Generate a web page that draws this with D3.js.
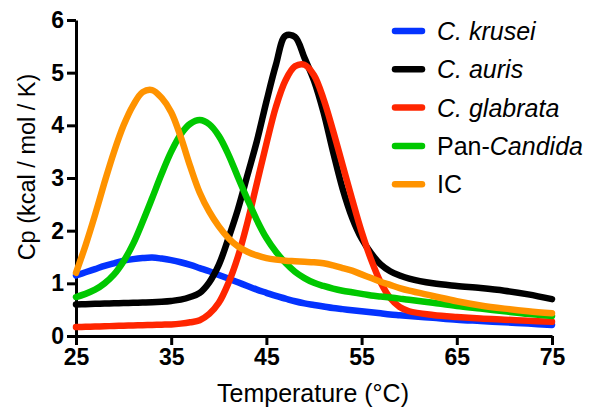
<!DOCTYPE html>
<html>
<head>
<meta charset="utf-8">
<script src="https://cdn.jsdelivr.net/npm/d3@7"></script>
<style>
    body { margin: 0; background: #fff; }
    svg { display: block; font-family: "Liberation Sans", Arial, sans-serif; }
</style>
</head>
<body>
<div id="chart"></div>
<script>
// temperature grid (°C), shared by every trace
const temps = [25, 26, 27, 28, 29, 30, 31, 32, 33, 34, 35, 36, 37, 38, 39, 40, 41, 42, 43, 44, 45, 46, 47, 48, 49, 50,
    51, 52, 53, 54, 55, 56, 57, 58, 59, 60, 62.5, 65, 67.5, 70, 72.5, 75]

const kruseiCp = [1.15, 1.21, 1.27, 1.33, 1.38, 1.43, 1.46, 1.48, 1.49, 1.47, 1.44, 1.40, 1.35, 1.29, 1.23, 1.16, 1.09, 1.02, 0.95, 0.88, 0.82, 0.76, 0.71, 0.66, 0.62, 0.59,
    0.56, 0.53, 0.51, 0.49, 0.47, 0.45, 0.43, 0.41, 0.395, 0.38, 0.345, 0.31, 0.285, 0.26, 0.235, 0.21]
const aurisCp = [0.60, 0.605, 0.61, 0.615, 0.62, 0.625, 0.63, 0.635, 0.64, 0.65, 0.665, 0.69, 0.74, 0.82, 1.02, 1.35, 1.85, 2.40, 3.05, 3.70, 4.45, 5.15, 5.70, 5.68, 5.28, 4.85,
    4.25, 3.50, 2.80, 2.25, 1.85, 1.57, 1.36, 1.23, 1.15, 1.09, 1.00, 0.95, 0.91, 0.86, 0.79, 0.70]
const glabrataCp = [0.17, 0.175, 0.18, 0.185, 0.19, 0.195, 0.20, 0.205, 0.21, 0.215, 0.22, 0.235, 0.26, 0.30, 0.42, 0.63, 1.00, 1.50, 2.15, 2.90, 3.65, 4.35, 4.85, 5.12, 5.15, 4.95,
    4.50, 3.90, 3.25, 2.60, 1.98, 1.45, 1.02, 0.72, 0.55, 0.47, 0.40, 0.36, 0.33, 0.31, 0.29, 0.27]
const panCandidaCp = [0.74, 0.80, 0.88, 1.00, 1.17, 1.42, 1.75, 2.17, 2.62, 3.08, 3.50, 3.83, 4.03, 4.10, 4.02, 3.80, 3.45, 3.02, 2.60, 2.20, 1.86, 1.60, 1.39, 1.22, 1.10, 1.01,
    0.95, 0.90, 0.86, 0.83, 0.80, 0.77, 0.75, 0.73, 0.71, 0.69, 0.63, 0.57, 0.52, 0.47, 0.42, 0.38]
const icCp = [1.20, 1.72, 2.30, 2.92, 3.50, 4.00, 4.38, 4.63, 4.67, 4.52, 4.25, 3.78, 3.22, 2.72, 2.36, 2.08, 1.86, 1.70, 1.60, 1.53, 1.48, 1.45, 1.43, 1.42, 1.41, 1.40,
    1.38, 1.34, 1.29, 1.24, 1.17, 1.10, 1.03, 0.97, 0.91, 0.86, 0.76, 0.66, 0.58, 0.52, 0.47, 0.43]

const xTicks = [25, 35, 45, 55, 65, 75]
const yTicks = [0, 1, 2, 3, 4, 5, 6]

const series = [
    { name: ['C. krusei'], italic: [true], color: '#0433ff', values: kruseiCp },
    { name: ['C. auris'], italic: [true], color: '#000000', values: aurisCp },
    { name: ['C. glabrata'], italic: [true], color: '#ff2600', values: glabrataCp },
    { name: ['Pan-', 'Candida'], italic: [false, true], color: '#00c800', values: panCandidaCp },
    { name: ['IC'], italic: [false], color: '#ff9300', values: icCp }
]

const width = 590, height = 414

const svg = d3.select('#chart').append('svg')
    .attr('width', width)
    .attr('height', height)

const x = d3.scaleLinear().domain([25, 75]).range([76, 552])
const y = d3.scaleLinear().domain([0, 6]).range([336, 20])

// axes
const xAxis = svg.append('g')
    .attr('transform', `translate(0,${y(0)})`)
    .call(d3.axisBottom(x).tickValues(xTicks).tickSize(9).tickSizeOuter(0).tickPadding(4))
const yAxis = svg.append('g')
    .attr('transform', `translate(${x(25)},0)`)
    .call(d3.axisLeft(y).tickValues(yTicks).tickFormat(d3.format('d')).tickSize(9).tickSizeOuter(0).tickPadding(3))

for (let axis of [xAxis, yAxis]) {
    axis.select('.domain').attr('stroke', '#000').attr('stroke-width', 3)
    axis.selectAll('.tick line').attr('stroke', '#000').attr('stroke-width', 3)
    axis.selectAll('.tick text')
        .attr('fill', '#000')
        .style('font-size', '23px')
        .style('font-weight', 'bold')
        .style('font-family', '"Liberation Sans", Arial, sans-serif')
}

// axis titles
svg.append('text')
    .attr('x', 313)
    .attr('y', 402)
    .attr('text-anchor', 'middle')
    .style('font-size', '25px')
    .text('Temperature (°C)')

svg.append('text')
    .attr('transform', 'translate(35,167) rotate(-90)')
    .attr('text-anchor', 'middle')
    .style('font-size', '23.5px')
    .text('Cp (kcal / mol / K)')

// traces
const line = d3.line()
    .x((d, i) => x(temps[i]))
    .y(d => y(d))
    .curve(d3.curveCatmullRom.alpha(0.5))

svg.append('g')
    .selectAll('path')
    .data(series)
    .join('path')
    .attr('d', d => line(d.values))
    .attr('fill', 'none')
    .attr('stroke', d => d.color)
    .attr('stroke-width', 6.5)
    .attr('stroke-linecap', 'round')
    .attr('stroke-linejoin', 'round')

// legend
const legend = svg.append('g')
const legendRows = legend.selectAll('g')
    .data(series)
    .join('g')
    .attr('transform', (d, i) => `translate(0,${31 + i * 38.3})`)

legendRows.append('line')
    .attr('x1', 395).attr('x2', 422)
    .attr('stroke', d => d.color)
    .attr('stroke-width', 6.5)
    .attr('stroke-linecap', 'round')

legendRows.append('text')
    .attr('x', 437)
    .attr('dy', '0.36em')
    .style('font-size', '25px')
    .selectAll('tspan')
    .data(d => d.name.map((part, i) => ({ part, italic: d.italic[i] })))
    .join('tspan')
    .style('font-style', d => d.italic ? 'italic' : 'normal')
    .text(d => d.part)
</script>
</body>
</html>
